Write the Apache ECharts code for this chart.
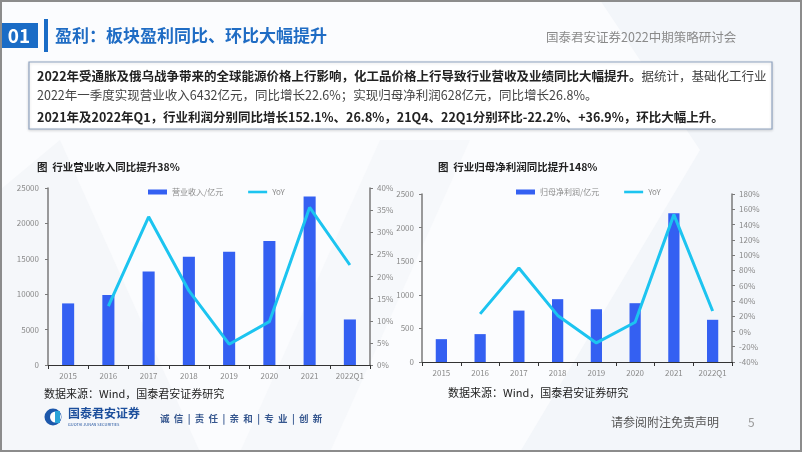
<!DOCTYPE html>
<html><head><meta charset="utf-8">
<script src="https://cdn.jsdelivr.net/npm/echarts@6/dist/echarts.min.js"></script>
<style>html,body{margin:0;padding:0;background:#fff}#c{width:802px;height:452px}</style>
</head><body><div id="c"></div>
<script>
const categories = ['2015','2016','2017','2018','2019','2020','2021','2022Q1'];
const revenue = [8700, 9900, 13200, 15300, 16000, 17500, 23800, 6432];
const revenueYoY = [null, 13.3, 33.5, 16.8, 4.7, 9.8, 35.6, 22.6];
const profit = [340, 415, 765, 935, 785, 875, 2215, 628];
const profitYoY = [null, 23, 83, 21, -15, 12, 153, 26.8];
const revTicks = {min: 0, max: 25000, interval: 5000};
const revPctTicks = {min: 0, max: 40, interval: 5};
const profTicks = {min: 0, max: 2500, interval: 500};
const profPctTicks = {min: -40, max: 180, interval: 20};

const FONT = '"Noto Sans CJK SC","Noto Sans",sans-serif';
const BAR = '#3460f2';
const LINE = '#1cc4f0';
const AX = '#7a7a7a';
const LBL = {color: '#8a8a8a', fontSize: 8, fontFamily: FONT};

function yAxis(t, pos, fmt, margin) {
  return Object.assign({
    type: 'value', position: pos, splitLine: {show: false},
    axisLine: {show: true, lineStyle: {color: AX, width: 1.5}},
    axisTick: {show: true, length: 3, lineStyle: {color: AX}},
    axisLabel: Object.assign({margin: margin, formatter: fmt}, LBL)
  }, t);
}
function xAxis(gi) {
  return {
    type: 'category', gridIndex: gi, data: categories,
    axisLine: {lineStyle: {color: '#333', width: 1.2}},
    axisTick: {show: true, length: 4, lineStyle: {color: '#333'}},
    axisLabel: Object.assign({margin: 7}, LBL)
  };
}
const plain = v => String(v);
const pct = v => v + '%';
const lineIcon = 'path://M0,0 L22,0 L22,3 L0,3 Z';

const chart = echarts.init(document.getElementById('c'), null, {renderer: 'canvas'});
chart.setOption({
  backgroundColor: '#fbfcfe',
  animation: false,
  textStyle: {fontFamily: FONT},
  grid: [
    {left: 48, right: 432, top: 188, bottom: 87},
    {left: 422, right: 70, top: 194, bottom: 90}
  ],
  legend: [
    {left: 143, top: 183, itemWidth: 19, itemHeight: 5, itemGap: 25,
     textStyle: {color: '#8a8a8a', fontSize: 8, fontFamily: FONT},
     data: [{name: '营业收入/亿元', icon: 'rect'}, {name: 'YoY', icon: lineIcon, itemStyle: {color: LINE}}]},
    {left: 511, top: 183, itemWidth: 19, itemHeight: 5, itemGap: 25,
     textStyle: {color: '#8a8a8a', fontSize: 8, fontFamily: FONT},
     data: [{name: '归母净利润/亿元', icon: 'rect'}, {name: 'YoY ', icon: lineIcon, itemStyle: {color: LINE}}],
     formatter: n => n.trim()}
  ],
  xAxis: [xAxis(0), xAxis(1)],
  yAxis: [
    yAxis(Object.assign({gridIndex: 0}, revTicks), 'left', plain, 9),
    yAxis(Object.assign({gridIndex: 0}, revPctTicks), 'right', pct, 7),
    yAxis(Object.assign({gridIndex: 1}, profTicks), 'left', plain, 8),
    yAxis(Object.assign({gridIndex: 1}, profPctTicks), 'right', pct, 7)
  ],
  series: [
    {name: '营业收入/亿元', type: 'bar', xAxisIndex: 0, yAxisIndex: 0, data: revenue, barWidth: '30%', itemStyle: {color: BAR}},
    {name: 'YoY', type: 'line', xAxisIndex: 0, yAxisIndex: 1, data: revenueYoY, showSymbol: false, symbol: 'none',
     lineStyle: {color: LINE, width: 3}, itemStyle: {color: LINE}},
    {name: '归母净利润/亿元', type: 'bar', xAxisIndex: 1, yAxisIndex: 2, data: profit, barWidth: '29%', itemStyle: {color: BAR}},
    {name: 'YoY ', type: 'line', xAxisIndex: 1, yAxisIndex: 3, data: profitYoY, showSymbol: false, symbol: 'none',
     lineStyle: {color: LINE, width: 3}, itemStyle: {color: LINE}}
  ],
  graphic: [
    {type: 'polygon', z: -10, shape: {points: [[600,0],[802,0],[802,452],[520,452],[700,150]]}, style: {fill: '#f3f6fa'}},
    {type: 'polygon', z: -10, shape: {points: [[380,140],[470,140],[330,452],[240,452]]}, style: {fill: '#f6f8fb'}},
    {type: 'polygon', z: -10, shape: {points: [[0,190],[60,140],[200,452],[0,452]]}, style: {fill: '#f5f7fa'}},
    {type: 'rect', z: 100, shape: {x: 1, y: 1, width: 800, height: 450}, style: {fill: null, stroke: '#8c8c8c', lineWidth: 2}},
    {type: 'rect', shape: {x: 0, y: 23, width: 38, height: 25}, style: {fill: '#1a6cc6'}},
    {type: 'text', x: 19, y: 36, style: {text: '01', fill: '#fff', font: 'bold 19px ' + FONT, align: 'center', verticalAlign: 'middle'}},
    {type: 'rect', shape: {x: 44, y: 19, width: 4, height: 33}, style: {fill: '#1a6cc6'}},
    {type: 'text', x: 55, y: 36, style: {text: '盈利：板块盈利同比、环比大幅提升', fill: '#1f6cc4', font: 'bold 17px ' + FONT, verticalAlign: 'middle'}},
    {type: 'text', x: 546, y: 37, style: {text: '国泰君安证券2022中期策略研讨会', fill: '#8a8a8a', font: '12.5px ' + FONT, verticalAlign: 'middle'}},
    {type: 'rect', shape: {x: 29, y: 62, width: 743, height: 67}, style: {fill: '#fff', stroke: '#8fa3c0', lineWidth: 1.2, shadowColor: 'rgba(0,0,0,0.15)', shadowBlur: 3, shadowOffsetY: 1}},
    {type: 'text', x: 37, y: 76, style: {
      text: '{b|2022年受通胀及俄乌战争带来的全球能源价格上行影响，化工品价格上行导致行业营收及业绩同比大幅提升。}{r|据统计，基础化工行业}',
      verticalAlign: 'middle',
      rich: {b: {font: 'bold 12.5px ' + FONT, fill: '#222'}, r: {font: '12.5px ' + FONT, fill: '#444'}}}},
    {type: 'text', x: 37, y: 95, style: {text: '2022年一季度实现营业收入6432亿元，同比增长22.6%；实现归母净利润628亿元，同比增长26.8%。',
      font: '12.5px ' + FONT, fill: '#444', verticalAlign: 'middle'}},
    {type: 'text', x: 37, y: 117, style: {text: '2021年及2022年Q1，行业利润分别同比增长152.1%、26.8%，21Q4、22Q1分别环比-22.2%、+36.9%，环比大幅上升。',
      font: 'bold 12.5px ' + FONT, fill: '#222', verticalAlign: 'middle'}},
    {type: 'text', x: 37, y: 167, style: {text: '图  行业营业收入同比提升38%', font: 'bold 10.5px ' + FONT, fill: '#222', verticalAlign: 'middle'}},
    {type: 'text', x: 438, y: 167, style: {text: '图  行业归母净利润同比提升148%', font: 'bold 10.5px ' + FONT, fill: '#222', verticalAlign: 'middle'}},
    {type: 'text', x: 44, y: 394, style: {text: '数据来源：Wind，国泰君安证券研究', font: '11px ' + FONT, fill: '#222', verticalAlign: 'middle'}},
    {type: 'text', x: 448, y: 393, style: {text: '数据来源：Wind，国泰君安证券研究', font: '11px ' + FONT, fill: '#222', verticalAlign: 'middle'}},
    {type: 'circle', shape: {cx: 53, cy: 417, r: 8.5}, style: {fill: '#1d58ab'}},
    {type: 'circle', shape: {cx: 55.5, cy: 417, r: 5.5}, style: {fill: '#fff'}},
    {type: 'rect', shape: {x: 55, y: 411, width: 5, height: 12}, style: {fill: '#2aa4d8'}},
    {type: 'text', x: 68, y: 413, style: {text: '国泰君安证券', font: 'bold 12px ' + FONT, fill: '#1d4f9c', verticalAlign: 'middle'}},
    {type: 'text', x: 68, y: 424, style: {text: 'GUOTAI JUNAN SECURITIES', font: '4px ' + FONT, fill: '#1d4f9c', verticalAlign: 'middle'}},
    {type: 'text', x: 160, y: 418, style: {text: '诚  信  |  责  任  |  亲  和  |  专  业  |  创  新', font: 'bold 9.5px ' + FONT, fill: '#36578f', verticalAlign: 'middle'}},
    {type: 'text', x: 611, y: 422, style: {text: '请参阅附注免责声明', font: '12px ' + FONT, fill: '#555', verticalAlign: 'middle'}},
    {type: 'text', x: 748, y: 422, style: {text: '5', font: '12px ' + FONT, fill: '#999', verticalAlign: 'middle'}}
  ]
});
</script></body></html>
